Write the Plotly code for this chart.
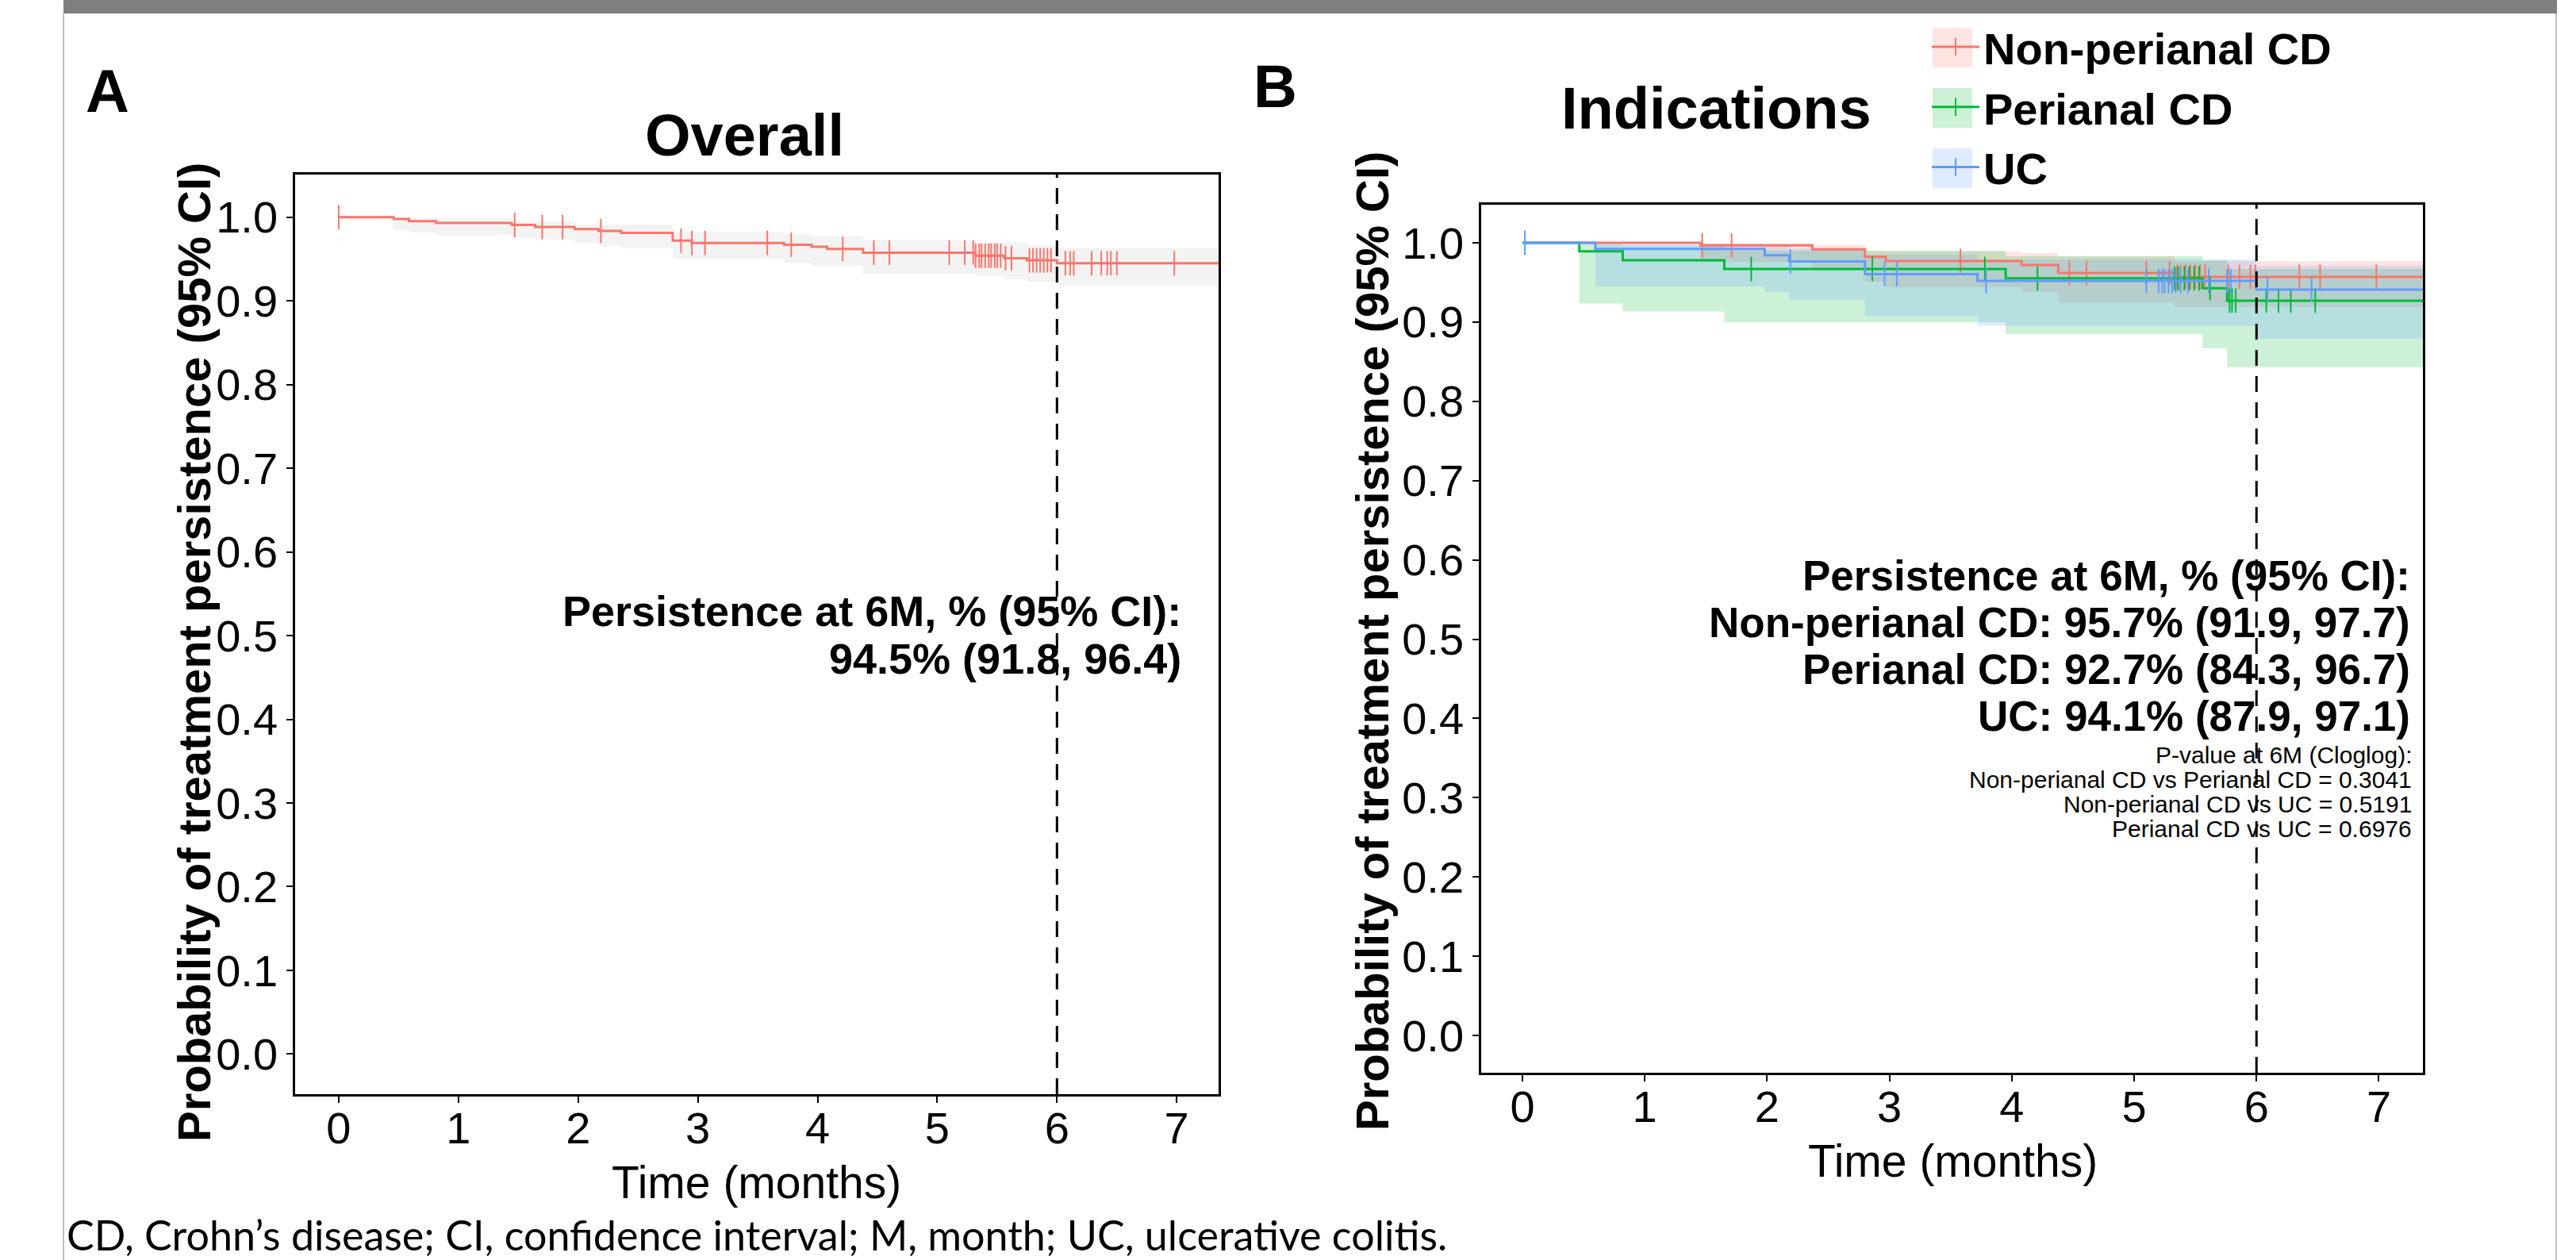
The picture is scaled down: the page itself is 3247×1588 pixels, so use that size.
import numpy as np
import plotly.graph_objects as go

W, H = 3247, 1588
FONT = "Liberation Sans, Arial, Helvetica, sans-serif"

# ---------------- Panel A: Overall ----------------
a_time = [0, 0.46, 0.587, 0.815, 1.445, 1.64, 1.97, 2.17, 2.36, 2.79, 2.95, 3.72, 3.95, 4.08, 4.38, 5.32, 5.56, 5.75, 6.0, 7.35]
a_surv = [1, 0.9978, 0.9953, 0.9931, 0.9908, 0.9883, 0.9858, 0.9836, 0.9813, 0.972, 0.9693, 0.967, 0.9646, 0.962, 0.9576, 0.954, 0.951, 0.9485, 0.945, 0.945]
a_lower = [1, 0.9848, 0.9817, 0.9785, 0.9753, 0.973, 0.969, 0.966, 0.963, 0.950, 0.950, 0.9456, 0.942, 0.942, 0.9326, 0.9295, 0.926, 0.923, 0.918, 0.918]
a_upper = [1, 1.0, 0.9995, 0.999, 0.995, 0.995, 0.991, 0.991, 0.991, 0.9825, 0.9825, 0.980, 0.977, 0.977, 0.973, 0.9698, 0.9698, 0.9667, 0.9636, 0.9636]
a_cens = [0, 1.47, 1.70, 1.87, 2.19, 2.86, 2.95, 3.06, 3.58, 3.78, 4.21, 4.47, 4.60, 5.10, 5.23, 5.30,
          5.32, 5.35, 5.37, 5.40, 5.43, 5.45, 5.48, 5.50, 5.53, 5.57, 5.62, 5.77, 5.80, 5.83, 5.86,
          5.89, 5.92, 5.95, 6.07, 6.11, 6.14, 6.29, 6.37, 6.42, 6.45, 6.50, 6.98]

# ---------------- Panel B: Indications ----------------
groups = ["Non-perianal CD", "Perianal CD", "UC"]
colors = ["#F8766D", "#00BA38", "#619CFF"]
fills = ["rgba(248,118,109,0.2)", "rgba(0,186,56,0.2)", "rgba(97,156,255,0.2)"]

np_time = [0, 1.455, 2.37, 2.80, 2.97, 4.08, 4.38, 5.33, 7.36]
np_surv = [1, 0.9966, 0.9916, 0.9821, 0.977, 0.972, 0.9619, 0.957, 0.957]
np_lower = [1, 0.976, 0.968, 0.951, 0.944, 0.938, 0.925, 0.919, 0.919]
np_upper = [1, 0.999, 0.9976, 0.990, 0.989, 0.987, 0.983, 0.977, 0.977]
np_cens = [1.47, 1.71, 3.58, 4.47, 4.61, 5.10, 5.29, 5.35, 5.38, 5.42, 5.46, 5.50, 5.54, 5.58,
           5.77, 5.86, 5.95, 5.99, 6.35, 6.52, 6.98]

pa_time = [0, 0.465, 0.82, 1.65, 3.95, 5.56, 5.76, 7.36]
pa_surv = [1, 0.9892, 0.978, 0.967, 0.9551, 0.9427, 0.927, 0.927]
pa_lower = [1, 0.9234, 0.9133, 0.8995, 0.8846, 0.8668, 0.843, 0.843]
pa_upper = [1, 0.998, 0.9966, 0.990, 0.983, 0.978, 0.967, 0.967]
pa_cens = [1.87, 2.86, 3.78, 4.21, 5.33, 5.36, 5.41, 5.45, 5.49, 5.53, 5.62, 5.78, 5.80, 5.83,
           6.08, 6.18, 6.28, 6.48]

uc_time = [0, 0.596, 1.98, 2.18, 2.80, 3.72, 6.0, 7.36]
uc_surv = [1, 0.9922, 0.9841, 0.9764, 0.9605, 0.9518, 0.941, 0.941]
uc_lower = [1, 0.945, 0.938, 0.928, 0.907, 0.895, 0.879, 0.879]
uc_upper = [1, 0.999, 0.996, 0.993, 0.985, 0.979, 0.971, 0.971]
uc_cens = [0.02, 2.19, 2.96, 3.06, 3.79, 5.10, 5.20, 5.23, 5.25, 5.28, 5.31, 5.34, 5.38, 5.44,
           5.61, 5.76, 5.79, 6.09, 6.45]

# ---------------- Text ----------------
x_ticks = [0, 1, 2, 3, 4, 5, 6, 7]
y_ticks = [0.0, 0.1, 0.2, 0.3, 0.4, 0.5, 0.6, 0.7, 0.8, 0.9, 1.0]
y_title = "Probability of treatment persistence (95% CI)"
x_title = "Time (months)"
a_text = ["Persistence at 6M, % (95% CI):", "94.5% (91.8, 96.4)"]
b_text = ["Persistence at 6M, % (95% CI):",
          "Non-perianal CD: 95.7% (91.9, 97.7)",
          "Perianal CD: 92.7% (84.3, 96.7)",
          "UC: 94.1% (87.9, 97.1)"]
p_text = ["P-value at 6M (Cloglog):",
          "Non-perianal CD vs Perianal CD = 0.3041",
          "Non-perianal CD vs UC = 0.5191",
          "Perianal CD vs UC = 0.6976"]
footnote = "CD, Crohn’s disease; CI, confidence interval; M, month; UC, ulcerative colitis."


def px(x):
    return x / W


def py(y):
    return 1 - y / H


def step_at(times, surv, t):
    idx = np.searchsorted(np.asarray(times), np.asarray(t), side="right") - 1
    return list(np.asarray(surv)[idx])


fig = go.Figure()


def add_ribbon(times, lower, upper, fill, xa, ya):
    fig.add_trace(go.Scatter(x=times, y=lower, mode="lines", line=dict(width=0, shape="hv"),
                             showlegend=False, hoverinfo="skip", xaxis=xa, yaxis=ya))
    fig.add_trace(go.Scatter(x=times, y=upper, mode="lines", line=dict(width=0, shape="hv"),
                             fill="tonexty", fillcolor=fill, showlegend=False, hoverinfo="skip",
                             xaxis=xa, yaxis=ya))


def add_line(times, surv, cens, color, xa, ya):
    fig.add_trace(go.Scatter(x=times, y=surv, mode="lines", line=dict(width=3, shape="hv", color=color),
                             showlegend=False, xaxis=xa, yaxis=ya))
    fig.add_trace(go.Scatter(x=cens, y=step_at(times, surv, cens), mode="markers",
                             marker=dict(symbol="line-ns", size=22, line=dict(width=2, color=color)),
                             showlegend=False, xaxis=xa, yaxis=ya))


# Panel A
add_ribbon(a_time, a_lower, a_upper, "rgba(170,170,170,0.14)", "x", "y")
add_line(a_time, a_surv, a_cens, "#F8766D", "x", "y")

# Panel B
b_data = [(np_time, np_surv, np_lower, np_upper, np_cens),
          (pa_time, pa_surv, pa_lower, pa_upper, pa_cens),
          (uc_time, uc_surv, uc_lower, uc_upper, uc_cens)]
for (t, s, lo, up, c), fl in zip(b_data, fills):
    add_ribbon(t, lo, up, fl, "x2", "y2")
for (t, s, lo, up, c), col in zip(b_data, colors):
    add_line(t, s, c, col, "x2", "y2")

# legend-only entries
for g, col in zip(groups, colors):
    fig.add_trace(go.Scatter(x=[None], y=[None], mode="lines+markers", name=g,
                             line=dict(color=col, width=3),
                             marker=dict(symbol="line-ns", size=16, line=dict(width=2, color=col)),
                             xaxis="x2", yaxis="y2"))

axis_common = dict(showline=True, linecolor="black", linewidth=2.5, mirror=True,
                   ticks="outside", ticklen=8, tickwidth=2, tickcolor="black",
                   showgrid=False, zeroline=False)

fig.update_layout(
    width=W, height=H, margin=dict(l=0, r=0, t=0, b=0),
    paper_bgcolor="white", plot_bgcolor="white",
    font=dict(family=FONT, color="black"),
    xaxis=dict(domain=[px(372), px(1536)], range=[-0.364, 7.35], tickvals=x_ticks,
               tickfont=dict(size=56), ticklabelstandoff=-16, anchor="y", **axis_common),
    yaxis=dict(domain=[py(1379), py(220)], range=[-0.048, 1.051], tickvals=y_ticks,
               tickformat=".1f", tickfont=dict(size=56), anchor="x", **axis_common),
    xaxis2=dict(domain=[px(1867), px(3054)], range=[-0.337, 7.36], tickvals=x_ticks,
                tickfont=dict(size=56), ticklabelstandoff=-16, anchor="y2", **axis_common),
    yaxis2=dict(domain=[py(1352), py(258)], range=[-0.047, 1.048], tickvals=y_ticks,
                tickformat=".1f", tickfont=dict(size=56), anchor="x2", **axis_common),
    legend=dict(x=px(2430), y=py(16), xanchor="left", yanchor="top", traceorder="normal",
                font=dict(size=56, weight="bold"), bgcolor="rgba(0,0,0,0)",
                tracegroupgap=0, itemwidth=60),
    showlegend=True,
)

shapes = []
# frame
shapes.append(dict(type="rect", xref="paper", yref="paper", x0=px(80), x1=px(3223), y0=py(17), y1=py(0),
                   fillcolor="#7F7F7F", line=dict(width=0), layer="below"))
for xx in (80, 3222):
    shapes.append(dict(type="line", xref="paper", yref="paper", x0=px(xx), x1=px(xx), y0=py(17), y1=0,
                       line=dict(color="#BFBFBF", width=2)))
# dashed 6-month lines
for xa, ya in (("x", "y"), ("x2", "y2")):
    shapes.append(dict(type="line", xref=xa, yref=ya + " domain", x0=6, x1=6, y0=0, y1=1,
                       line=dict(color="black", width=3, dash="20px,13px")))
# legend key backgrounds
for yc, fl in zip((60, 136, 212), fills):
    shapes.append(dict(type="rect", xref="paper", yref="paper", x0=px(2436), x1=px(2486),
                       y0=py(yc + 25), y1=py(yc - 25), fillcolor=fl, line=dict(width=0), layer="below"))
fig.update_layout(shapes=shapes)

ann = []


def text(x, y, s, size, bold=False, xanchor="center", yanchor="middle", angle=0, family=FONT, pad=1):
    ann.append(dict(x=px(x), y=py(y), xref="paper", yref="paper", text=s, showarrow=False,
                    xanchor=xanchor, yanchor=yanchor, textangle=angle, borderpad=pad,
                    font=dict(size=size, family=family, color="black", weight="bold" if bold else "normal")))


text(135, 114, "A", 76, True)
text(1607, 108, "B", 76, True)
text(938, 170, "Overall", 74, True)
text(2163, 136, "Indications", 74, True)
text(244, 822, y_title, 58, True, angle=-90)
text(1729, 808, y_title, 58, True, angle=-90)
text(954, 1490, x_title, 57, pad=0)
text(2461, 1463, x_title, 57, pad=0)
for s, yy in zip(a_text, (770, 830)):
    text(1490, yy, s, 54, True, xanchor="right", pad=0)
for s, yy in zip(b_text, (725, 784, 843, 902)):
    text(3039, yy, s, 53, True, xanchor="right", pad=0)
for s, yy in zip(p_text, (951, 982, 1013, 1044)):
    text(3041, yy, s, 30, False, xanchor="right", pad=0)
text(83, 1588, footnote, 52, False, xanchor="left", yanchor="bottom",
     family="Lato, Open Sans, sans-serif", pad=0)
fig.update_layout(annotations=ann)

fig.write_html("out.html")
